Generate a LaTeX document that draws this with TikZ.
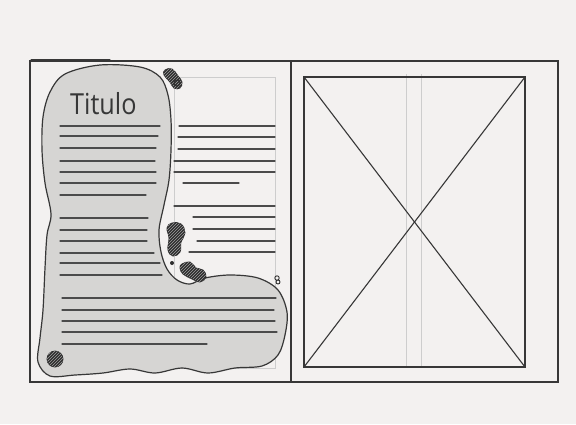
\documentclass[tikz,border=0pt]{standalone}
\usepackage{fontspec}
\newfontfamily\titlefont{Open Sans}
\usetikzlibrary{patterns}
\definecolor{paper}{RGB}{243,241,240}
\definecolor{ink}{RGB}{55,55,55}
\definecolor{blobgrey}{RGB}{214,213,211}
\definecolor{guide}{RGB}{205,205,205}
\definecolor{hatch}{RGB}{45,45,45}
\tikzset{
  frameline/.style={draw=ink,line width=1.4pt},
  textline/.style={draw=ink!90,line width=1.1pt,line cap=round},
  guideline/.style={draw=guide,line width=0.6pt},
  hatched/.style={fill=hatch,draw=hatch,line width=0.8pt,postaction={pattern=north east lines,pattern color=white!55!hatch}},
}
\begin{document}
\begin{tikzpicture}[x=1pt,y=-1pt]
\useasboundingbox (0,0) rectangle (576,424);
\fill[paper] (0,0) rectangle (576,424);
% outer frame
\draw[frameline] (30,61) rectangle (558,382);
\draw[frameline] (291,61) -- (291,382);
\draw[draw=ink,line width=1pt,line cap=round] (31,59.3) -- (110,59.3);
% left page guide column
\draw[guideline] (174,77) rectangle (275,368);
% blob
\draw[draw=ink,line width=1.2pt,fill=blobgrey] plot[smooth cycle,tension=0.55] coordinates {
 (100,65) (140,67) (160,77) (168,95) (171,120) (171,150) (169,180) (164,205)
 (159,230) (161,252) (167,269) (177,280) (190,284) (205,278) (230,275) (258,278)
 (278,290) (287,312) (285,335) (278,355) (262,366) (235,368) (208,373) (182,368)
 (155,373) (130,369) (103,373) (75,375) (50,376) (38,362) (40,338) (43,310)
 (45,268) (47,235) (51,214) (45,183) (42,150) (43,117) (50,92) (65,74)};
% title
\node[anchor=base west,inner sep=0pt,font=\titlefont\fontsize{29}{30}\selectfont,text=ink,xscale=0.87] (title) at (70,114) {Titulo};
% left column text lines
\foreach \y/\xe in {126/160,136/158,148/156,161/155,172/156,183/156,195/146,218/148,230/147,241/147,253/154,263/160,275/162}
  \draw[textline] (60,\y) -- (\xe,\y);
% right column text lines
\foreach \y/\xs/\xe in {126/179/275,137/178/275,149/178/275,161/174/275,172/174/275,183/183/239,206/174/275,217/193/275,229/193/275,241/197/275,252/189/275}
  \draw[textline] (\xs,\y) -- (\xe,\y);
% full width lines
\foreach \y/\xe in {298/276,310/274,321/275,332/277,344/207}
  \draw[textline] (62,\y) -- (\xe,\y);
% hatched blobs
\draw[hatched] plot[smooth cycle,tension=0.7] coordinates {(165,70) (172,69) (178,76) (182,82) (180,88) (174,88) (170,82) (164,75)};
\draw[draw=hatch,line width=0.8pt] (177,83) circle (3);
\draw[hatched] plot[smooth cycle,tension=0.7] coordinates {(172,223) (181,224) (185,233) (181,242) (180,252) (173,256) (168,250) (169,238) (167,228)};
\draw[hatched] plot[smooth cycle,tension=0.7] coordinates {(182,264) (190,262) (196,268) (203,270) (206,277) (200,282) (192,279) (183,274) (180,268)};
\fill[hatch] (172,263) circle (2);
\draw[hatch,line width=0.9pt] (277,278) circle (2.2) (278,282) circle (2);
\draw[hatched] (55,359) circle (8);
% right page
\draw[guideline] (406,74) -- (406,366);
\draw[guideline] (421,74) -- (421,366);
\draw[draw=ink,line width=1.2pt] (304,77) rectangle (525,367);
\draw[draw=ink,line width=1.1pt] (304,77) -- (525,367);
\draw[draw=ink,line width=1.1pt] (525,77) -- (304,367);
\end{tikzpicture}
\end{document}
